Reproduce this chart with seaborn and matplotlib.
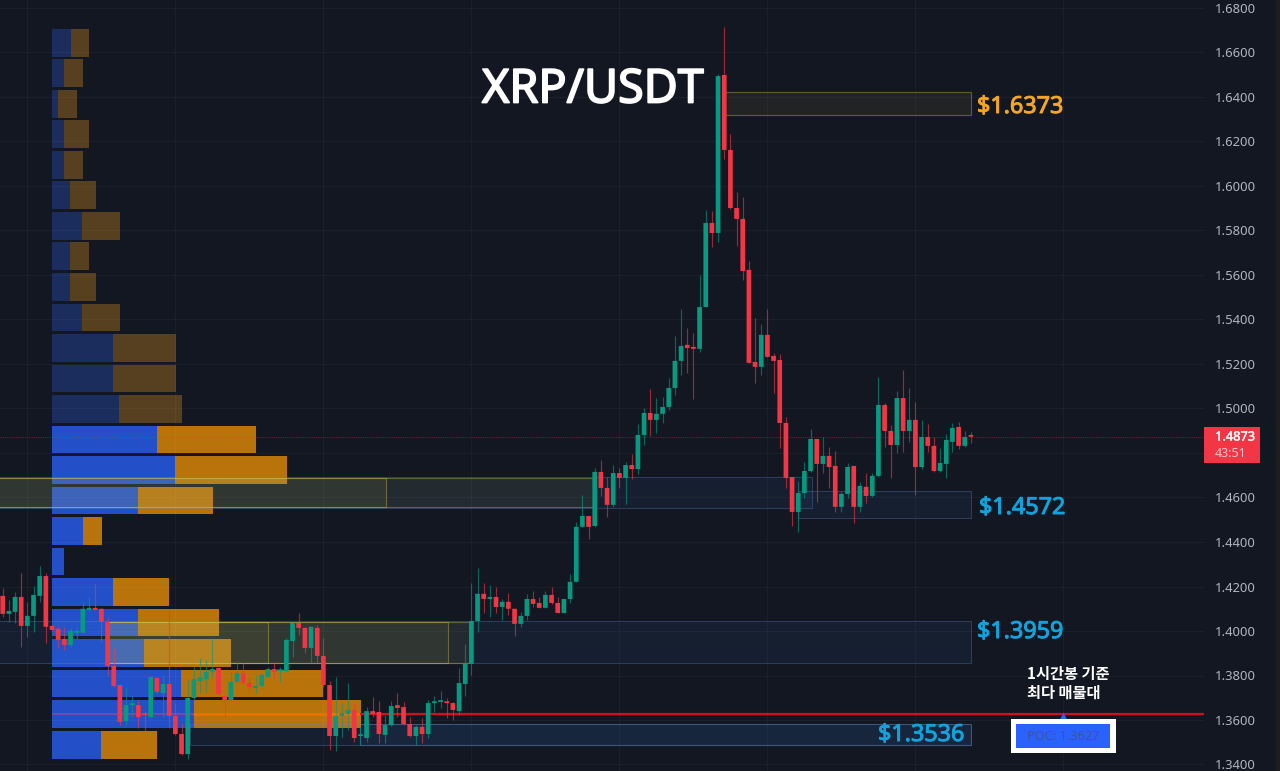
import matplotlib
matplotlib.use("Agg")
import matplotlib.pyplot as plt
import matplotlib.patheffects as pe
from matplotlib.patches import Rectangle
import numpy as np
import seaborn as sns

opens = [1.4158,1.4077,1.4086,1.4153,1.4023,1.4068,1.4158,1.4247,1.4023,1.4010,1.3964,1.3937,1.3992,1.3992,1.4095,1.4104,1.4100,1.4041,1.3843,1.3757,
 1.3595,1.3667,1.3667,1.3627,1.3613,1.3789,1.3721,1.3762,1.3618,1.3537,1.3447,1.3699,1.3775,1.3784,1.3816,1.3834,1.3708,1.3690,1.3771,1.3811,
 1.3766,1.3744,1.3753,1.3793,1.3829,1.3820,1.3820,1.3955,1.4036,1.4014,1.3924,1.4014,1.3888,1.3757,1.3528,1.3618,1.3627,1.3645,1.3528,1.3519,
 1.3640,1.3636,1.3533,1.3577,1.3667,1.3658,1.3582,1.3528,1.3569,1.3537,1.3676,1.3681,1.3681,1.3676,1.3640,1.3762,1.3852,1.4045,1.4167,1.4144,
 1.4153,1.4108,1.4131,1.4100,1.4032,1.4068,1.4144,1.4126,1.4104,1.4162,1.4126,1.4081,1.4144,1.4221,1.4468,1.4517,1.4472,1.4715,1.4643,1.4567,
 1.4710,1.4688,1.4746,1.4728,1.4881,1.4980,1.4949,1.4976,1.5007,1.5092,1.5214,1.5286,1.5277,1.5268,1.5456,1.5834,1.5789,1.6499,1.6162,1.5901,
 1.5852,1.5623,1.5209,1.5187,1.5331,1.5236,1.5218,1.4935,1.4692,1.4535,1.4620,1.4719,1.4863,1.4751,1.4787,1.4742,1.4558,1.4616,1.4742,1.4558,
 1.4648,1.4607,1.4697,1.5016,1.4899,1.4836,1.5047,1.4899,1.4949,1.4737,1.4872,1.4832,1.4719,1.4751,1.4850,1.4917,1.4832,1.4875]
highs = [1.4194,1.4140,1.4176,1.4261,1.4131,1.4203,1.4292,1.4261,1.4028,1.4019,1.4019,1.4014,1.4014,1.4131,1.4153,1.4212,1.4104,1.4063,1.3924,1.3757,
 1.3744,1.3712,1.3690,1.3640,1.3793,1.3793,1.3802,1.4095,1.3676,1.3586,1.3780,1.3838,1.3879,1.3870,1.3969,1.3834,1.3712,1.3816,1.3861,1.3856,
 1.3793,1.3802,1.3811,1.3838,1.3861,1.3838,1.3969,1.4041,1.4081,1.4019,1.4019,1.4028,1.3969,1.3775,1.3793,1.3676,1.3766,1.3676,1.3569,1.3658,
 1.3703,1.3685,1.3622,1.3685,1.3721,1.3681,1.3613,1.3577,1.3609,1.3690,1.3708,1.3730,1.3699,1.3681,1.3834,1.3942,1.4216,1.4283,1.4216,1.4207,
 1.4198,1.4144,1.4171,1.4100,1.4086,1.4167,1.4180,1.4153,1.4180,1.4198,1.4153,1.4144,1.4257,1.4490,1.4612,1.4517,1.4733,1.4769,1.4692,1.4746,
 1.4733,1.4760,1.4796,1.4931,1.5002,1.5088,1.5047,1.5052,1.5137,1.5326,1.5447,1.5362,1.5340,1.5600,1.5892,1.5888,1.6503,1.6715,1.6234,1.5973,
 1.5951,1.5663,1.5407,1.5380,1.5447,1.5250,1.5245,1.4962,1.4692,1.4674,1.4760,1.4908,1.4863,1.4872,1.4827,1.4809,1.4625,1.4755,1.4742,1.4670,
 1.4710,1.4710,1.5142,1.5025,1.4926,1.5079,1.5173,1.5092,1.5029,1.4949,1.4931,1.4872,1.4823,1.4886,1.4935,1.4940,1.4899,1.4895]
lows = [1.4063,1.4041,1.4037,1.3928,1.3973,1.3996,1.4131,1.3946,1.4001,1.3924,1.3915,1.3928,1.3964,1.3992,1.4090,1.4095,1.3951,1.3802,1.3749,1.3577,
 1.3577,1.3613,1.3564,1.3551,1.3609,1.3721,1.3613,1.3564,1.3533,1.3443,1.3425,1.3690,1.3721,1.3726,1.3793,1.3712,1.3613,1.3690,1.3766,1.3762,
 1.3726,1.3721,1.3749,1.3793,1.3789,1.3771,1.3816,1.3883,1.3982,1.3901,1.3856,1.3856,1.3749,1.3465,1.3461,1.3524,1.3555,1.3501,1.3488,1.3501,
 1.3613,1.3497,1.3497,1.3573,1.3613,1.3577,1.3524,1.3488,1.3497,1.3519,1.3636,1.3654,1.3609,1.3600,1.3622,1.3708,1.3802,1.3996,1.4081,1.4063,
 1.4081,1.4050,1.4072,1.3978,1.4019,1.4050,1.4108,1.4104,1.4104,1.4122,1.4081,1.4081,1.4126,1.4221,1.4468,1.4414,1.4468,1.4607,1.4513,1.4558,
 1.4643,1.4571,1.4683,1.4706,1.4836,1.4877,1.4890,1.4935,1.4993,1.5061,1.5151,1.5160,1.5043,1.5254,1.5456,1.5726,1.5748,1.6121,1.5897,1.5730,
 1.5578,1.5205,1.5115,1.5151,1.5232,1.5070,1.4823,1.4643,1.4472,1.4445,1.4598,1.4715,1.4580,1.4710,1.4643,1.4535,1.4535,1.4598,1.4486,1.4535,
 1.4575,1.4602,1.4692,1.4827,1.4688,1.4800,1.4805,1.4850,1.4612,1.4728,1.4805,1.4715,1.4715,1.4688,1.4805,1.4818,1.4827,1.4845]
closes = [1.4077,1.4090,1.4153,1.4023,1.4068,1.4162,1.4247,1.4019,1.4005,1.3960,1.3937,1.4001,1.3996,1.4100,1.4104,1.4095,1.4041,1.3843,1.3753,1.3591,
 1.3667,1.3672,1.3613,1.3622,1.3793,1.3726,1.3762,1.3618,1.3537,1.3447,1.3699,1.3784,1.3793,1.3816,1.3829,1.3717,1.3690,1.3771,1.3811,1.3766,
 1.3748,1.3753,1.3802,1.3829,1.3816,1.3825,1.3960,1.4036,1.4014,1.3924,1.4019,1.3888,1.3757,1.3528,1.3618,1.3631,1.3645,1.3519,1.3533,1.3640,
 1.3627,1.3537,1.3577,1.3663,1.3654,1.3582,1.3528,1.3569,1.3537,1.3676,1.3681,1.3685,1.3676,1.3645,1.3766,1.3852,1.4045,1.4167,1.4144,1.4153,
 1.4108,1.4131,1.4100,1.4032,1.4068,1.4144,1.4122,1.4104,1.4162,1.4126,1.4081,1.4144,1.4221,1.4468,1.4517,1.4468,1.4715,1.4643,1.4567,1.4710,
 1.4688,1.4746,1.4728,1.4881,1.4980,1.4949,1.4976,1.5007,1.5092,1.5214,1.5281,1.5272,1.5268,1.5456,1.5834,1.5789,1.6494,1.6162,1.5901,1.5852,
 1.5618,1.5205,1.5187,1.5331,1.5232,1.5214,1.4935,1.4688,1.4535,1.4620,1.4719,1.4863,1.4751,1.4787,1.4737,1.4558,1.4616,1.4737,1.4558,1.4652,
 1.4607,1.4697,1.5016,1.4899,1.4836,1.5047,1.4899,1.4949,1.4737,1.4872,1.4832,1.4719,1.4755,1.4859,1.4913,1.4832,1.4872,1.4873]

profile_levels = ["1.6644","1.6507","1.6370","1.6233","1.6096","1.5958","1.5821","1.5684","1.5547","1.5410","1.5273","1.5136",
                  "1.4998","1.4861","1.4724","1.4587","1.4450","1.4313","1.4176","1.4038","1.3901","1.3764","1.3627","1.3490"]
buy_volume = [19,12,6.3,12,12,18.6,30.6,18.6,18.6,30.6,61.6,61.6,67.6,105,123.6,86.3,31,12.6,61.6,86.3,92.6,129.3,142,49.3]
total_volume = [37.6,31.3,25,37.6,31.3,44,68.3,37.6,44,68.3,124,124,130.3,204.3,235,161,50.3,12.6,117.6,167.6,179.6,271.6,309,105.6]

price_ticks = [1.34,1.36,1.38,1.40,1.42,1.44,1.46,1.48,1.50,1.52,1.54,1.56,1.58,1.60,1.62,1.64,1.66,1.68]
price_tick_labels = ["1.3400","1.3600","1.3800","1.4000","1.4200","1.4400","1.4600","","1.5000","1.5200","1.5400","1.5600",
                     "1.5800","1.6000","1.6200","1.6400","1.6600","1.6800"]
last_price = 1.4873
poc_price = 1.3627

BG = "#131722"
GREEN = "#089981"
RED = "#f23645"
W, H = 1280, 771
AX_W = 1204
SPACING = 6.167
X0 = 2.7
PX_PER_PRICE = 2225.0

sns.set_theme(style="dark", rc={"figure.facecolor": BG, "axes.facecolor": BG, "savefig.facecolor": BG,
                                 "axes.edgecolor": BG})
plt.rcParams["font.family"] = ["Noto Sans CJK KR", "DejaVu Sans"]

fig = plt.figure(figsize=(W / 100, H / 100), dpi=100, facecolor=BG)
pos = [0, 0, AX_W / W, 1]
ax2 = fig.add_axes(pos, zorder=1, facecolor=BG)
ax = fig.add_axes(pos, zorder=2)
ax.patch.set_visible(False)


def ix(px):
    return (px - X0) / SPACING


# volume profile
row_colors_buy = {l: ("#1a2d5c" if k <= 12 else "#2350c8") for k, l in enumerate(profile_levels)}
row_colors_sell = {l: ("#57401f" if k <= 12 else "#b8730a") for k, l in enumerate(profile_levels)}
bar_w = 27.7 / 30.52
sns.barplot(x=total_volume, y=profile_levels, hue=profile_levels, palette=row_colors_sell, dodge=False,
            legend=False, width=bar_w, saturation=1, ax=ax2, orient="h", linewidth=0)
sns.barplot(x=buy_volume, y=profile_levels, hue=profile_levels, palette=row_colors_buy, dodge=False,
            legend=False, width=bar_w, saturation=1, ax=ax2, orient="h", linewidth=0)
ax2.set_xlim(-51.7, AX_W - 51.7)
ax2.set_ylim((H - 42.7) / 30.52, -42.7 / 30.52)
ax2.set_xticks([])
ax2.set_yticks([])
ax2.set_xlabel("")
ax2.set_ylabel("")
for s in ax2.spines.values():
    s.set_visible(False)

# main axis
ax.set_xlim(ix(0), ix(AX_W))
ax.set_ylim(1.34 - (H - 764.5) / PX_PER_PRICE, 1.68 + 8 / PX_PER_PRICE)
ax.yaxis.tick_right()
ax.set_yticks(price_ticks)
ax.set_yticklabels(price_tick_labels, color="#b2b5be", fontsize=9.4, family="Noto Sans")
ax.tick_params(axis="y", length=0, pad=7.8, right=False)
ax.set_xticks(np.arange(4, 190, 24))
ax.tick_params(axis="x", length=0, labelbottom=False, bottom=False)
ax.grid(True, color="#ffffff", alpha=0.035, lw=0.8)
ax.set_axisbelow(True)
for s in ax.spines.values():
    s.set_visible(False)


def zone(x0, x1, p0, p1, kind):
    if kind == "y":
        fc, ec = (0.95, 0.85, 0.3, 0.065), (0.8, 0.75, 0.3, 0.4)
    else:
        fc, ec = (0.2, 0.55, 0.95, 0.07), (0.4, 0.55, 0.8, 0.3)
    ax.add_patch(Rectangle((ix(x0), p0), ix(x1) - ix(x0), p1 - p0, facecolor=fc, edgecolor=ec, lw=0.8, zorder=3))


zone(-5, 812, 1.4555, 1.4690, "b")
zone(-5, 386, 1.4557, 1.4688, "y")
zone(-5, 595, 1.4557, 1.4688, "y")
zone(798, 971, 1.4508, 1.4629, "b")
zone(723, 971, 1.6317, 1.6423, "y")
zone(-5, 971, 1.3856, 1.4043, "b")
zone(108, 268, 1.3857, 1.4042, "y")
zone(108, 448, 1.3857, 1.4042, "y")
zone(108, 470, 1.3857, 1.4042, "y")
zone(190, 971, 1.3488, 1.3582, "b")
zone(360, 971, 1.3488, 1.3582, "b")

# POC and last price lines
ax.hlines(poc_price, ix(52), ix(193), color="#7a4aa8", lw=1.3, zorder=3.5)
ax.hlines(poc_price, ix(193), ix(360), color="#e87400", lw=1.8, zorder=3.5)
ax.hlines(poc_price, ix(360), ix(AX_W), color="#d0101c", lw=1.6, zorder=3.5)
ax.hlines(last_price, ix(0), ix(AX_W), color=RED, alpha=0.35, lw=0.8, linestyles=(0, (1, 1)), zorder=3.5)

# candles
o, h, l, c = map(np.array, (opens, highs, lows, closes))
xs = np.arange(len(o))
colors = np.where(c >= o, GREEN, RED)
ax.vlines(xs, l, h, colors=list(colors), lw=0.85, alpha=0.6, zorder=4)
bodies = ax.bar(xs, np.maximum(np.abs(c - o), 0.0008), bottom=np.minimum(o, c), width=0.76, color=list(colors),
                linewidth=0, zorder=5)
for b in bodies:
    b.set_snap(False)


def ftext(x, y, s, stroke=0, **kw):
    t = fig.text(x / W, 1 - y / H, s, va="center", zorder=20, **kw)
    if stroke:
        t.set_path_effects([pe.withStroke(linewidth=stroke, foreground=kw["color"])])


def frect(x, y, w, h, color, z=15):
    fig.add_artist(Rectangle((x / W, 1 - (y + h) / H), w / W, h / H, transform=fig.transFigure,
                             facecolor=color, edgecolor="none", zorder=z))


ftext(482, 90, "XRP/USDT", stroke=1.3, color="white", fontsize=33.6, family="Noto Sans")
ftext(977, 107, "$1.6373", stroke=0.7, color="#f5a623", fontsize=16.8, family="Noto Sans")
ftext(979, 508, "$1.4572", stroke=0.7, color="#12a3dc", fontsize=16.8, family="Noto Sans")
ftext(977, 632, "$1.3959", stroke=0.7, color="#12a3dc", fontsize=16.8, family="Noto Sans")
ftext(878, 735, "$1.3536", stroke=0.7, color="#12a3dc", fontsize=16.8, family="Noto Sans")
ftext(1027, 674, "1시간봉 기준", color="white", fontsize=11, fontweight="bold")
ftext(1027, 693, "최다 매물대", color="white", fontsize=11, fontweight="bold")

# POC tag
ax.plot([ix(1063)], [poc_price - 0.0007], marker="^", ms=5.5, color="#2962ff", mec="none", zorder=6, clip_on=False)
frect(1010.5, 719, 105, 34, "white")
frect(1016, 724, 94, 24, "#2962ff", z=16)
ftext(1063, 736, "POC: 1.3627", color="#3f5590", fontsize=9.2, ha="center", family="Noto Sans")

# last price tag
frect(1204, 427, 56, 36, RED)
ftext(1235, 437, "1.4873", stroke=0.3, color="white", fontsize=9.2, ha="center", family="Noto Sans")
ftext(1231, 453.5, "43:51", color="#f8c4c8", fontsize=9, ha="center", family="Noto Sans")

# right edge strip
frect(1276, 0, 4, 771, "#1e1e1e")

fig.savefig("out.png", dpi=100)
